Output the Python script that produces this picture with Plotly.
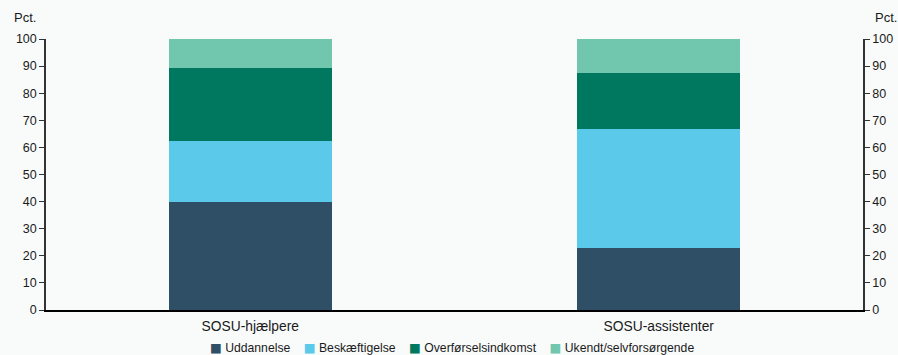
import plotly.graph_objects as go

categories = ["SOSU-hjælpere", "SOSU-assistenter"]
series_names = ["Uddannelse", "Beskæftigelse", "Overførselsindkomst", "Ukendt/selvforsørgende"]
uddannelse = [39.9, 22.8]
beskaeftigelse = [22.6, 43.9]
overfoersel = [26.8, 20.9]
ukendt = [10.7, 12.4]
tick_vals = [0, 10, 20, 30, 40, 50, 60, 70, 80, 90, 100]

colors = ["#2e4f66", "#5bc9ea", "#00775f", "#70c7ad"]
values = [uddannelse, beskaeftigelse, overfoersel, ukendt]

FAM = "Liberation Sans, Arial, sans-serif"
TXT = "#1a1a1a"
tick_font = dict(family=FAM, size=12.5, color=TXT)
cat_font = dict(family=FAM, size=13.8, color=TXT)
leg_font = dict(family=FAM, size=12.2, color=TXT)

fig = go.Figure()
for name, vals, col in zip(series_names, values, colors):
    fig.add_trace(go.Bar(x=categories, y=vals, name=name, marker=dict(color=col, line=dict(width=0)),
                         width=0.4, showlegend=False))
fig.add_trace(go.Scatter(x=categories, y=[None, None], yaxis="y2", showlegend=False,
                         hoverinfo="skip"))

# Manual legend (compact square markers like the original)
nb = "&nbsp;"
legend_parts = []
for name, col in zip(series_names, colors):
    legend_parts.append(
        f'<span style="color:{col};font-family:DejaVu Sans;font-size:12.5px">■</span>{nb}{name}')
legend_text = (nb * 4).join(legend_parts)

bg = "#f9fafa"
axis_common = dict(range=[0, 100], tickvals=tick_vals, showline=True, linecolor="#333333",
                   linewidth=1.5, ticks="outside", ticklen=5, tickcolor="#333333",
                   showgrid=False, zeroline=False, tickfont=tick_font, automargin=False)
fig.update_layout(
    barmode="stack",
    width=898, height=355,
    paper_bgcolor=bg, plot_bgcolor=bg,
    margin=dict(l=46, r=35, t=39, b=45),
    font=tick_font,
    showlegend=False,
    xaxis=dict(showline=True, linecolor="#000000", linewidth=1.5, ticks="outside", ticklen=3,
               tickcolor="rgba(0,0,0,0)", showgrid=False, tickfont=cat_font, automargin=False),
    yaxis=axis_common,
    yaxis2=dict(axis_common, overlaying="y", side="right"),
    annotations=[
        dict(text="Pct.", xref="paper", yref="paper", x=-0.042, y=1.081, xanchor="left",
             yanchor="middle", showarrow=False, font=dict(family=FAM, size=13, color=TXT)),
        dict(text="Pct.", xref="paper", yref="paper", x=1.012, y=1.081, xanchor="left",
             yanchor="middle", showarrow=False, font=dict(family=FAM, size=13, color=TXT)),
        dict(text=legend_text, xref="paper", yref="paper", x=0.4975, y=-0.137, xanchor="center",
             yanchor="middle", showarrow=False, font=leg_font),
    ],
)

fig.write_html(
    "out.html",
    config={"displayModeBar": False},
    post_script="document.body.style.margin='0';document.body.style.overflow='hidden';"
                "document.body.style.background='#f9fafa';",
)
